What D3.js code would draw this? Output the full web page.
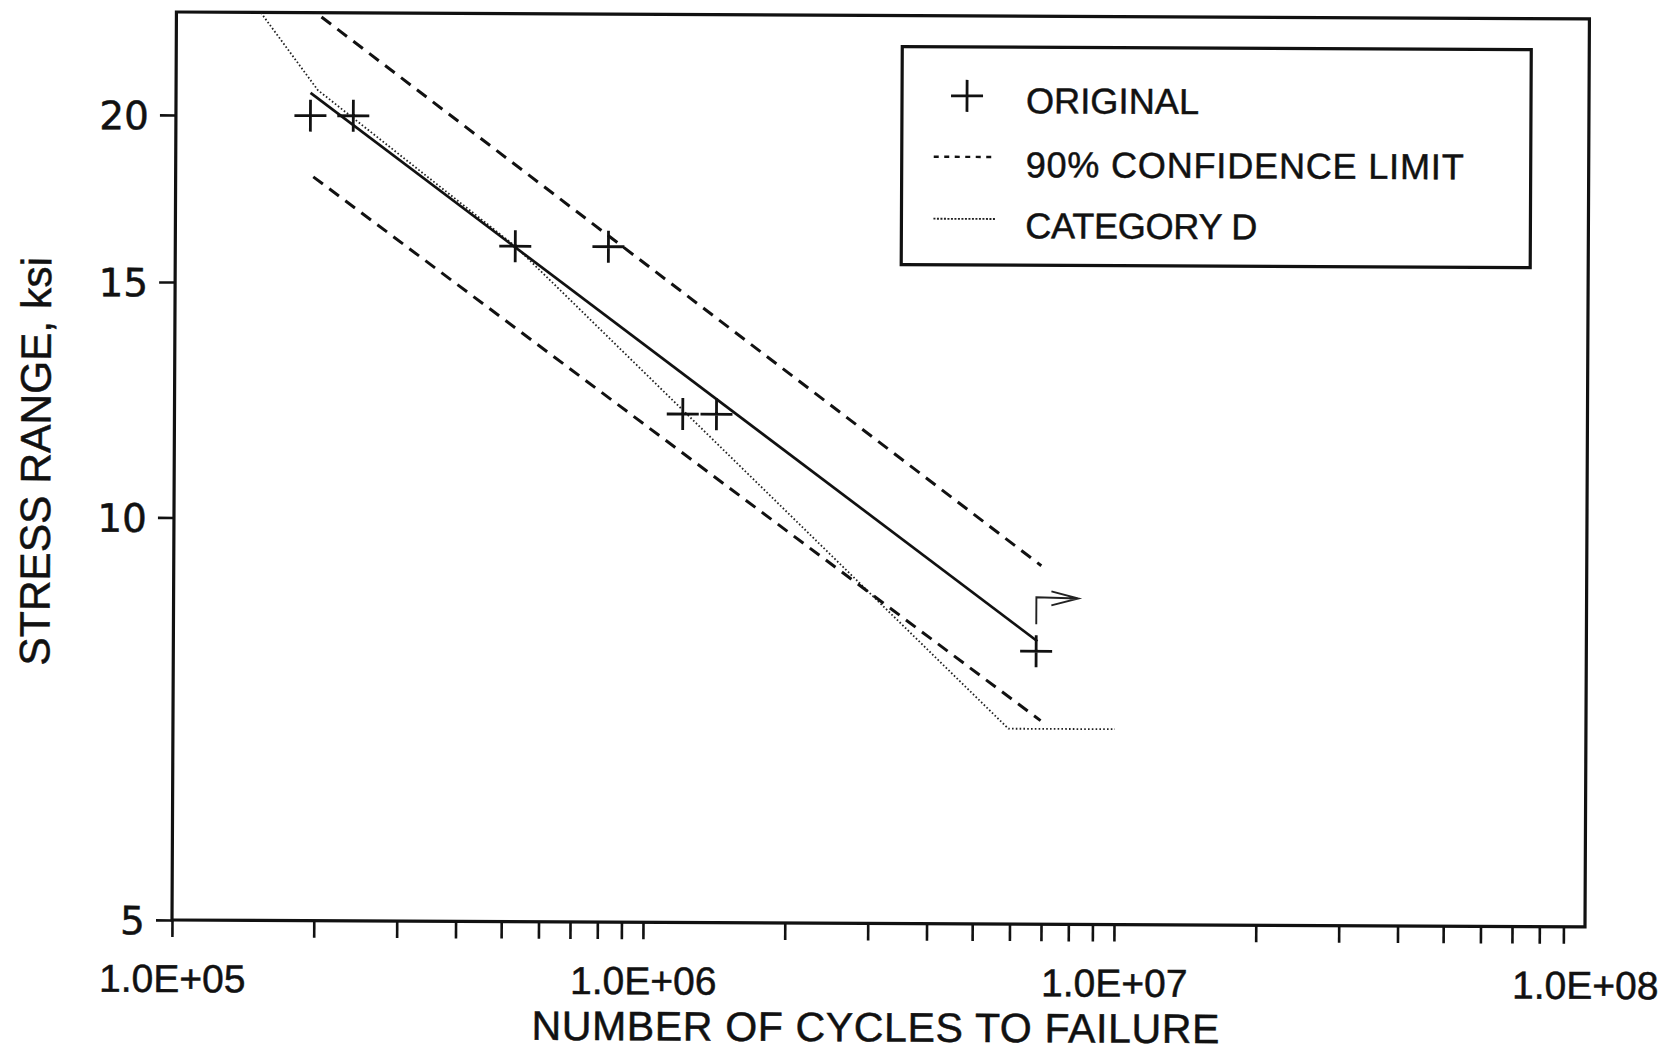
<!DOCTYPE html>
<html>
<head>
<meta charset="utf-8">
<script src="https://cdn.jsdelivr.net/npm/d3@7"></script>
<style>
  html, body { margin: 0; padding: 0; background: #fff; }
  svg { display: block; }
  text { font-family: "Liberation Sans", Arial, Helvetica, sans-serif; fill: #111;
         stroke: #111; stroke-width: 0.5px; }
</style>
</head>
<body>
<svg id="chart" width="1676" height="1052"></svg>
<script>
// ---------------- data ----------------
const origCycles = [1.93e5, 2.38e5, 5.27e5, 8.31e5, 1.20e6, 1.415e6, 6.79e6];
const origStress = [20, 20, 16, 16, 12, 12, 8];

const meanCycles = [1.93e5, 6.83e6];
const meanStress = [20.8, 8.14];

const upperCycles = [1.88e5, 6.95e6];
const upperStress = [24.2, 9.27];

const lowerCycles = [1.96e5, 6.95e6];
const lowerStress = [18.0, 7.10];

const catDCycles = [1.43e5, 2.0e5, 5.27e5, 5.94e6, 1.0e7];
const catDStress = [24.5, 20.9, 16.0, 7.0, 7.0];

const runoutIndex = 6; // last specimen did not fail (arrow)

const yTickValues = [5, 10, 15, 20];
const xMajorValues = [1e5, 1e6, 1e7, 1e8];
const xTickLabels = ["1.0E+05", "1.0E+06", "1.0E+07", "1.0E+08"];

const legendLabels = ["ORIGINAL", "90% CONFIDENCE LIMIT", "CATEGORY D"];
const xTitle = "NUMBER OF CYCLES TO FAILURE";
const yTitle = "STRESS RANGE, ksi";

// ---------------- layout ----------------
const svg = d3.select("#chart");
const L = 172, R = 1585, T = 12, B = 920;
const root = svg.append("g").attr("transform", "rotate(0.28," + L + "," + B + ")");

const x = d3.scaleLog().domain([1e5, 1e8]).range([L, R]);
const y = d3.scaleLog().domain([5, 23.88]).range([B, T]);

// minor + major ticks on x
const xTickVals = [];
[5, 6, 7].forEach(p => { for (let m = 1; m <= 9; m++) xTickVals.push(m * Math.pow(10, p)); });
xTickVals.push(1e8);
const labelFor = d => {
  const i = xMajorValues.findIndex(v => Math.abs(v - d) / v < 1e-9);
  return i >= 0 ? xTickLabels[i] : "";
};

const clipId = "plotclip";
svg.append("defs").append("clipPath").attr("id", clipId)
  .append("rect").attr("x", L).attr("y", T).attr("width", R - L).attr("height", B - T);

// x axis
const gx = root.append("g").attr("transform", "translate(0," + B + ")")
  .call(d3.axisBottom(x).tickValues(xTickVals).tickSize(17).tickFormat(labelFor));
gx.select(".domain").remove();
gx.selectAll(".tick line").attr("stroke", "#111").attr("stroke-width", 2.6);
gx.selectAll(".tick").filter(d => Math.abs(d - 1e8) < 1).select("line").remove();
gx.selectAll(".tick text").attr("y", 72).attr("dy", null)
  .style("font-size", "39px").style("fill", "#111");

// y axis
const gy = root.append("g").attr("transform", "translate(" + L + ",0)")
  .call(d3.axisLeft(y).tickValues(yTickValues).tickSize(16).tickPadding(11).tickFormat(d3.format("d")));
gy.select(".domain").remove();
gy.selectAll(".tick line").attr("stroke", "#111").attr("stroke-width", 2.6);
gy.selectAll(".tick text").attr("dy", "0.36em")
  .style("font-family", "'DejaVu Sans', 'Liberation Sans', sans-serif")
  .style("font-size", "39px").style("fill", "#111");

// frame
root.append("rect").attr("x", L).attr("y", T).attr("width", R - L).attr("height", B - T)
  .attr("fill", "none").attr("stroke", "#111").attr("stroke-width", 3.2);

// axis titles
root.append("text").attr("x", 876).attr("y", 1038).attr("text-anchor", "middle")
  .attr("textLength", 688).attr("lengthAdjust", "spacing")
  .style("font-size", "41px").text(xTitle);
root.append("text").attr("transform", "translate(48,462) rotate(-90)").attr("text-anchor", "middle")
  .style("font-size", "42.5px").text(yTitle);

// lines
const line = d3.line().x(d => x(d[0])).y(d => y(d[1]));
const zip = (a, b) => a.map((v, i) => [v, b[i]]);
const plot = root.append("g").attr("clip-path", "url(#" + clipId + ")");

plot.append("path").datum(zip(catDCycles, catDStress)).attr("d", line)
  .attr("fill", "none").attr("stroke", "#222").attr("stroke-width", 1.8).attr("stroke-dasharray", "1.6,2.2");
plot.append("path").datum(zip(upperCycles, upperStress)).attr("d", line)
  .attr("fill", "none").attr("stroke", "#111").attr("stroke-width", 3).attr("stroke-dasharray", "12,8");
plot.append("path").datum(zip(lowerCycles, lowerStress)).attr("d", line)
  .attr("fill", "none").attr("stroke", "#111").attr("stroke-width", 3).attr("stroke-dasharray", "12,8");
plot.append("path").datum(zip(meanCycles, meanStress)).attr("d", line)
  .attr("fill", "none").attr("stroke", "#111").attr("stroke-width", 2.7);

// markers
const plusPath = "M-16,0H16M0,-16V16";
plot.selectAll(".pt").data(zip(origCycles, origStress)).enter().append("path")
  .attr("class", "pt").attr("d", plusPath)
  .attr("transform", d => "translate(" + x(d[0]) + "," + y(d[1]) + ")")
  .attr("stroke", "#111").attr("stroke-width", 2.8).attr("fill", "none");

// run-out arrow on the last specimen
const rx = x(origCycles[runoutIndex]), ry = y(origStress[runoutIndex]);
const tipX = rx + 42, tipY = ry - 53;
root.append("path")
  .attr("d", "M" + rx + "," + (ry - 27) + "V" + (ry - 54) + "L" + tipX + "," + tipY +
    "M" + (tipX - 27) + "," + (tipY - 7) + "L" + tipX + "," + tipY + "L" + (tipX - 27) + "," + (tipY + 7))
  .attr("fill", "none").attr("stroke", "#222").attr("stroke-width", 1.9);

// legend
const lg = root.append("g");
lg.append("rect").attr("x", 898).attr("y", 43).attr("width", 629).attr("height", 218)
  .attr("fill", "#fff").attr("stroke", "#111").attr("stroke-width", 3.2);
const baselines = [109, 173, 234];
const labelWidths = [173, 438, 232];
lg.append("path").attr("d", plusPath).attr("transform", "translate(963," + (baselines[0] - 17) + ")")
  .attr("stroke", "#111").attr("stroke-width", 2.8);
lg.append("line").attr("x1", 930).attr("x2", 991).attr("y1", baselines[1] - 20).attr("y2", baselines[1] - 20)
  .attr("stroke", "#111").attr("stroke-width", 2.4).attr("stroke-dasharray", "5,5.5");
lg.append("line").attr("x1", 930).attr("x2", 993).attr("y1", baselines[2] - 19).attr("y2", baselines[2] - 19)
  .attr("stroke", "#222").attr("stroke-width", 1.8).attr("stroke-dasharray", "2,1.5");
lg.selectAll(".lt").data(legendLabels).enter().append("text")
  .attr("x", 1022).attr("y", (d, i) => baselines[i])
  .attr("textLength", (d, i) => labelWidths[i]).attr("lengthAdjust", "spacing")
  .style("font-size", "36px").text(d => d);
</script>
</body>
</html>
